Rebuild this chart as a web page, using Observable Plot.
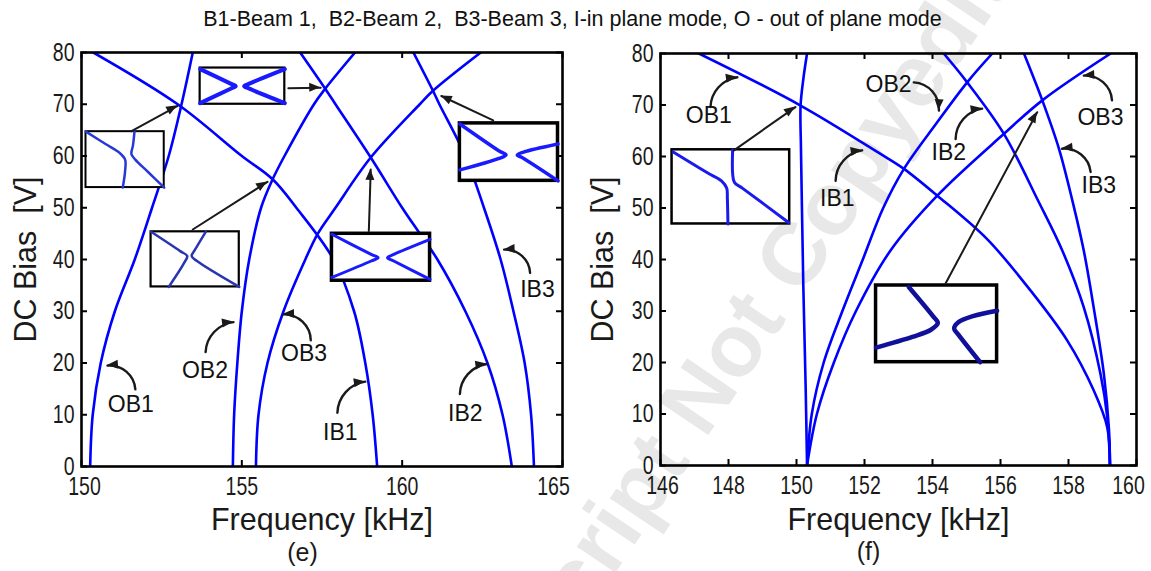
<!DOCTYPE html>
<html><head><meta charset="utf-8">
<script src="https://cdn.jsdelivr.net/npm/d3@7"></script>
<script src="https://cdn.jsdelivr.net/npm/@observablehq/plot@0.6"></script>
<style>
body{margin:0;background:#fff;}
#root{position:relative;width:1151px;height:571px;overflow:hidden;background:#fff;}
#title{position:absolute;left:-3px;top:9px;width:1151px;text-align:center;font-size:21.5px;line-height:21px;font-family:"Liberation Sans",Arial,sans-serif;white-space:pre;color:#111;}
#wm{position:absolute;left:0;top:0;width:1151px;height:571px;overflow:hidden;}
#wmrot{position:absolute;left:705px;top:440px;transform:rotate(-56deg);transform-origin:0 0;font:bold 88px "Liberation Sans",Arial,sans-serif;color:#e8e8e8;white-space:pre;line-height:1em;}
#wmrot span{position:absolute;top:-0.846em;}
.panel{position:absolute;top:36px;}
</style></head><body>
<div id="root">
<div id="wm"><div id="wmrot"><span style="right:0">Accepted Manuscript </span><span style="left:0">Not Copyedited</span></div></div>
<div id="title">B1-Beam 1,  B2-Beam 2,  B3-Beam 3, I-in plane mode, O - out of plane mode</div>
<div id="pe" class="panel" style="left:0"></div>
<div id="pf" class="panel" style="left:575px"></div>
</div>
<script>
// ---------- data ----------
const yTicks = [0,10,20,30,40,50,60,70,80];
const xTicksE = [150,155,160,165];
const xTicksF = [146,148,150,152,154,156,158,160];

// panel (e): [frequency kHz, DC bias V]
const eOB1 = [[150.27,0],[150.35,10],[150.6,20],[151.04,30],[151.66,40],[152.2,50],[152.72,60],[153.12,70],[153.47,80]];
const eOB2 = [[154.72,0],[154.76,10],[154.86,20],[155.0,30],[155.23,40],[155.6,50],[155.96,55.5],[156.33,60],[157.25,70],[157.6,73],[158.53,80]];
const eOB3 = [[155.44,0],[155.52,10],[155.8,20],[156.3,30],[156.98,40],[157.37,45],[157.92,50],[159.02,59.7],[160.55,70],[160.96,72.6],[162.45,80]];
const eIB1 = [[159.22,0],[159.08,10],[158.85,20],[158.5,30],[157.86,40],[156.7,50],[155.96,55.5],[155.0,60],[153.0,70],[150.37,80]];
const eIB2 = [[163.42,0],[163.13,10],[162.66,20],[161.97,30],[161.1,40],[160.55,45],[160.0,50],[159.02,59.7],[157.92,70],[157.6,73],[156.82,80]];
const eIB3 = [[164.11,0],[164.02,10],[163.82,20],[163.47,30],[163.07,40],[162.55,50],[161.97,60],[161.16,70],[160.96,72.6],[160.35,80]];

// panel (f)
const fOB1 = [[159.22,0],[159.14,7.4],[158.74,14.6],[157.96,24.3],[156.88,34],[155.6,44],[154.14,52.4],[153.16,57.6],[152.47,60.5],[150.12,69.9],[147.13,80]];
const fIB1 = [[150.31,0],[150.27,15],[150.2,35],[150.16,50],[150.13,62],[150.12,69.9],[150.2,75],[150.31,80]];
const fOB2 = [[150.31,0],[150.45,10],[150.8,20],[151.35,30],[151.95,40],[152.55,50],[153.16,57.6],[154.1,66.3],[155.02,74.4],[155.76,80]];
const fOB3 = [[150.31,0],[150.6,10],[151.1,20],[151.75,30],[152.76,41.7],[154.14,52.4],[156.1,64.4],[157.23,70.9],[159.24,80]];
const fIB2 = [[159.22,0],[159.14,9.4],[158.94,17.8],[158.45,30.7],[157.82,41.7],[157.1,51.5],[156.1,64.4],[155.02,74.4],[154.33,80]];
const fIB3 = [[159.22,0],[159.19,7],[159.04,17.8],[158.74,30.7],[158.45,41.7],[158.13,51],[157.72,61.5],[157.23,70.9],[156.69,80]];

// mode labels
const eLabels = [
  {t:"OB1", x:151.54, y:11.9}, {t:"OB2", x:153.85, y:18.6}, {t:"OB3", x:156.94, y:21.9},
  {t:"IB1", x:158.07, y:6.5}, {t:"IB2", x:161.97, y:10.2}, {t:"IB3", x:164.22, y:34.2}
];
const fLabels = [
  {t:"OB1", x:147.42, y:67.9}, {t:"IB1", x:151.2, y:51.8}, {t:"OB2", x:152.71, y:73.9},
  {t:"IB2", x:154.48, y:60.8}, {t:"OB3", x:158.94, y:67.6}, {t:"IB3", x:158.89, y:54.4}
];

// arrows: tail -> tip, bend in degrees
const eArrows = [
  {x1:151.68,y1:14.9,x2:150.81,y2:19.5,bend:-45},
  {x1:153.87,y1:22.1,x2:154.74,y2:27.9,bend:40},
  {x1:157.15,y1:24.4,x2:156.3,y2:29.4,bend:-45},
  {x1:157.98,y1:10.4,x2:158.85,y2:16.4,bend:40},
  {x1:161.8,y1:14.0,x2:162.64,y2:19.8,bend:40},
  {x1:163.99,y1:37.4,x2:163.18,y2:41.9,bend:-45},
  {x1:151.56,y1:64.8,x2:153.0,y2:69.7,bend:0},
  {x1:156.45,y1:73.1,x2:157.46,y2:73.2,bend:0},
  {x1:153.47,y1:45.8,x2:155.8,y2:55.0,bend:0},
  {x1:158.96,y1:45.5,x2:159.02,y2:57.4,bend:0},
  {x1:162.84,y1:66.9,x2:161.22,y2:71.6,bend:0}
];
const fArrows = [
  {x1:147.47,y1:69.6,x2:148.26,y2:75.4,bend:40},
  {x1:151.15,y1:55.3,x2:151.93,y2:61.2,bend:40},
  {x1:153.45,y1:74.4,x2:154.19,y2:68.9,bend:45},
  {x1:154.68,y1:63.4,x2:155.46,y2:69.3,bend:40},
  {x1:159.28,y1:70.9,x2:158.45,y2:75.7,bend:-45},
  {x1:158.65,y1:57.0,x2:157.81,y2:61.5,bend:-45},
  {x1:148.16,y1:61.2,x2:149.97,y2:69.6,bend:0},
  {x1:154.38,y1:35.3,x2:157.08,y2:68.6,bend:0}
];

// zoom insets: box in data units, curves in box-relative units
const eInsets = [
  {x1:150.14,x2:152.58,y1:53.9,y2:64.7, curves:[
    [[0,1],[0.25,0.78],[0.43,0.62],[0.5,0.5],[0.5,0.3],[0.47,0]],
    [[0.62,1],[0.6,0.75],[0.58,0.6],[0.63,0.5],[0.8,0.27],[1,0]]]},
  {x1:153.70,x2:156.34,y1:70.0,y2:77.0, curves:[
    [[0,0.97],[0.36,0.57],[0.42,0.5],[0.36,0.43],[0,0.03]],
    [[1,0.97],[0.58,0.57],[0.52,0.5],[0.58,0.43],[1,0.03]]]},
  {x1:152.17,x2:154.92,y1:34.7,y2:45.35, curves:[
    [[0,1],[0.33,0.65],[0.41,0.56],[0.38,0.45],[0.2,0]],
    [[0.62,1],[0.5,0.68],[0.46,0.56],[0.52,0.47],[1,0]]]},
  {x1:157.81,x2:160.87,y1:35.9,y2:44.97, curves:[
    [[0,0.99],[0.4,0.56],[0.47,0.49],[0.4,0.42],[0,0.07]],
    [[1,0.88],[0.63,0.56],[0.566,0.49],[0.63,0.42],[1,0.03]]]},
  {x1:161.8,x2:164.86,y1:55.2,y2:66.3, curves:[
    [[0,0.99],[0.4,0.52],[0.47,0.45],[0.4,0.39],[0,0.19]],
    [[1,0.64],[0.65,0.5],[0.585,0.45],[0.65,0.39],[1,0]]]}
];
const fInsets = [
  {x1:146.34,x2:149.80,y1:46.9,y2:61.3, curves:[
    [[0.01,0.97],[0.3,0.69],[0.42,0.58],[0.465,0.48],[0.47,0.35],[0.475,0]],
    [[0.515,1],[0.515,0.68],[0.53,0.56],[0.6,0.48],[0.99,0.02]]]},
  {x1:152.34,x2:155.90,y1:20.06,y2:34.95, curves:[
    [[0,0.19],[0.3,0.33],[0.45,0.42],[0.51,0.51],[0.47,0.6],[0.27,0.98]],
    [[1,0.67],[0.8,0.6],[0.68,0.52],[0.645,0.44],[0.68,0.36],[0.86,0]]]}
];

// ---------- styles ----------
const eInsetStyles = [
  {box:2, color:"#2638d8", width:2.5},
  {box:2.2, color:"#1a1aff", width:4},
  {box:2.2, color:"#2a35b0", width:2.5},
  {box:3.5, color:"#1a1aff", width:3},
  {box:3.5, color:"#1a1aff", width:3.5}
];
const fInsetStyles = [
  {box:2.5, color:"#1a1aee", width:3},
  {box:3.5, color:"#10109a", width:4.5}
];
const SANS = '"Liberation Sans", Arial, sans-serif';
const H = 535;
const TICK_SQUEEZE = 0.78;

function headsMark(arrows) {
  return (index, scales, values, dimensions, context) => {
    let sx = scales.x, sy = scales.y;
    if (typeof sx !== "function" && scales.scales) { sx = scales.scales.x.apply; sy = scales.scales.y.apply; }
    const g = d3.create("svg:g").attr("fill", "#1a1a1a");
    for (const a of arrows) {
      const x1 = sx(a.x1), y1 = sy(a.y1), x2 = sx(a.x2), y2 = sy(a.y2);
      const ang = Math.atan2(y2 - y1, x2 - x1) + (a.bend || 0) * Math.PI / 180;
      const L = 11, W = 4.5;
      const bx = x2 - L * Math.cos(ang), by = y2 - L * Math.sin(ang);
      const px = -Math.sin(ang) * W, py = Math.cos(ang) * W;
      g.append("path").attr("d", `M${x2},${y2}L${bx + px},${by + py}L${bx - px},${by - py}Z`);
    }
    return g.node();
  };
}

function panel(cfg) {
  const {width, margin, xDomain, xTicks, series, insets, insetStyles, arrows, labels, caption, captionDx, xLabelDy, yLabelDx, edgeDx} = cfg;
  const innerW = width - margin.left - margin.right;
  const innerH = H - margin.top - margin.bottom;
  const marks = [];
  for (const s of series) {
    marks.push(Plot.line(s, {x: d => d[0], y: d => d[1], stroke: "#0000ff", strokeWidth: 2.6, curve: "catmull-rom", clip: true}));
  }
  insets.forEach((ins, i) => {
    const st = insetStyles[i];
    marks.push(Plot.rect([ins], {x1: "x1", x2: "x2", y1: "y1", y2: "y2", fill: "white", stroke: "black", strokeWidth: st.box}));
    for (const c of ins.curves) {
      const pts = c.map(([u, v]) => [ins.x1 + u * (ins.x2 - ins.x1), ins.y1 + v * (ins.y2 - ins.y1)]);
      marks.push(Plot.line(pts, {x: d => d[0], y: d => d[1], stroke: st.color, strokeWidth: st.width, curve: "catmull-rom"}));
    }
  });
  for (const a of arrows) {
    marks.push(Plot.arrow([a], {x1: "x1", y1: "y1", x2: "x2", y2: "y2", bend: a.bend, headLength: 0, stroke: "#1a1a1a", strokeWidth: a.bend ? 2.4 : 2}));
  }
  marks.push(headsMark(arrows));
  marks.push(Plot.text(labels, {x: "x", y: "y", text: "t", fontSize: 23, fontFamily: SANS, fill: "#111"}));
  marks.push(Plot.frame({stroke: "black", strokeWidth: 2.6}));
  marks.push(Plot.tickX(xTicks, {x: d => d, insetTop: innerH - 6, stroke: "black", strokeWidth: 2}));
  marks.push(Plot.tickX(xTicks, {x: d => d, insetBottom: innerH - 6, stroke: "black", strokeWidth: 2}));
  marks.push(Plot.tickY(yTicks, {y: d => d, insetRight: innerW - 6, stroke: "black", strokeWidth: 2}));
  marks.push(Plot.tickY(yTicks, {y: d => d, insetLeft: innerW - 6, stroke: "black", strokeWidth: 2}));
  const mid = xTicks.slice(1, -1);
  const axOpts = {tickSize: 0, tickPadding: 11, fontSize: 25, fontFamily: SANS, label: null, fill: "#1a1a1a"};
  marks.push(Plot.axisX({...axOpts, ticks: mid}));
  marks.push(Plot.axisX({...axOpts, ticks: [xTicks[0]], dx: edgeDx[0]}));
  marks.push(Plot.axisX({...axOpts, ticks: [xTicks[xTicks.length - 1]], dx: edgeDx[1]}));
  marks.push(Plot.axisY({tickSize: 0, tickPadding: 7, fontSize: 25, fontFamily: SANS, label: null, ticks: yTicks, fill: "#1a1a1a"}));
  marks.push(Plot.text(["Frequency [kHz]"], {text: d => d, frameAnchor: "bottom", lineAnchor: "middle", textAnchor: "middle", dy: xLabelDy, fontSize: 30.5, fontFamily: SANS, fill: "#1a1a1a"}));
  marks.push(Plot.text(["DC Bias  [V]"], {text: d => d, frameAnchor: "left", lineAnchor: "middle", textAnchor: "middle", dx: yLabelDx, rotate: -90, fontSize: 30.5, fontFamily: SANS, fill: "#1a1a1a"}));
  marks.push(Plot.text([caption], {text: d => d, frameAnchor: "bottom", lineAnchor: "middle", textAnchor: "middle", dx: captionDx, dy: 86, fontSize: 25, fontFamily: SANS, fill: "#1a1a1a"}));
  const svg = Plot.plot({
    width, height: H,
    marginLeft: margin.left, marginRight: margin.right, marginTop: margin.top, marginBottom: margin.bottom,
    x: {domain: xDomain, label: null},
    y: {domain: [0, 80], label: null},
    style: {background: "transparent", overflow: "visible", fontFamily: SANS},
    marks
  });
  // condensed tick numerals, as in the original figure
  svg.querySelectorAll('g[aria-label="x-axis tick label"] text, g[aria-label="y-axis tick label"] text').forEach(t => {
    t.setAttribute("transform", (t.getAttribute("transform") || "") + ` scale(${TICK_SQUEEZE},1)`);
  });
  return svg;
}

document.getElementById("pe").append(panel({
  width: 575, margin: {left: 81, right: 13, top: 16, bottom: 105},
  xDomain: [150, 165], xTicks: xTicksE, edgeDx: [3, -9],
  series: [eOB1, eOB2, eOB3, eIB1, eIB2, eIB3],
  insets: eInsets, insetStyles: eInsetStyles, arrows: eArrows, labels: eLabels,
  caption: "(e)", captionDx: -19.5, xLabelDy: 54, yLabelDx: -55
}));
document.getElementById("pf").append(panel({
  width: 576, margin: {left: 85, right: 15, top: 17, bottom: 106},
  xDomain: [146, 160], xTicks: xTicksF, edgeDx: [2, -8],
  series: [fOB1, fIB1, fOB2, fOB3, fIB2, fIB3],
  insets: fInsets, insetStyles: fInsetStyles, arrows: fArrows, labels: fLabels,
  caption: "(f)", captionDx: -30, xLabelDy: 55, yLabelDx: -57
}));
</script>
</body></html>
